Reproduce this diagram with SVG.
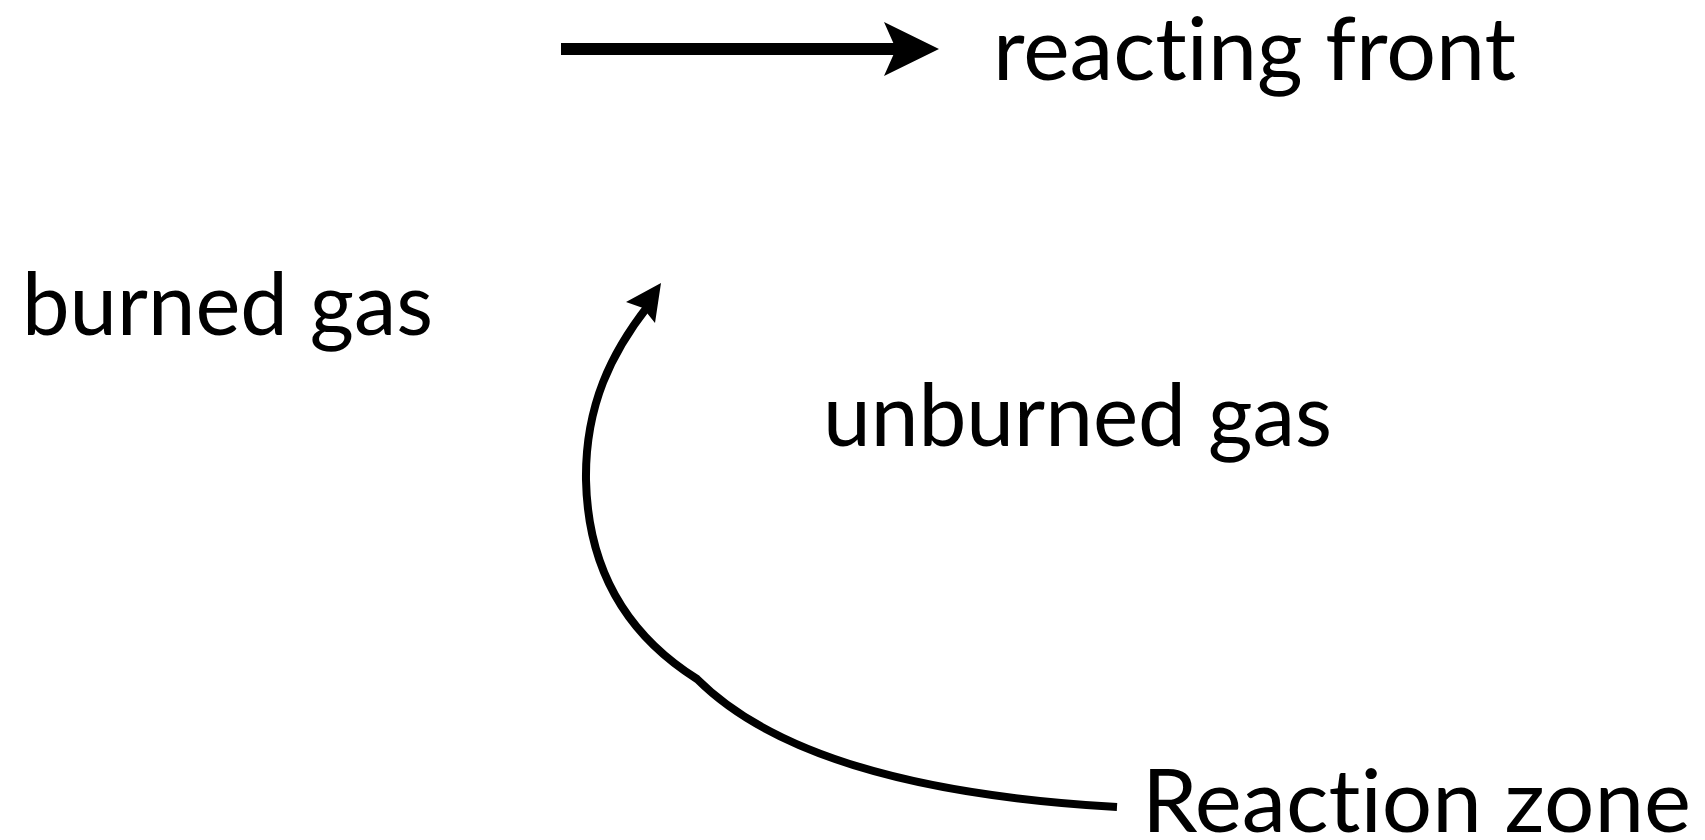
<svg xmlns="http://www.w3.org/2000/svg" width="1705" height="840" viewBox="0 0 1705 840">
  <style>
    .lbl { font-family: Lato, "Open Sans", "Liberation Sans", sans-serif; font-size: 88px; fill: #000; font-variant-ligatures: none; font-feature-settings: "liga" 0, "clig" 0; }
    .wire { fill: none; stroke: #000; stroke-linecap: butt; stroke-linejoin: round; }
    .head { fill: #000; stroke: none; }
  </style>
  <rect width="1705" height="840" fill="#fff"/>

  <g id="connectors">
    <!-- direction of propagation -->
    <g id="front-arrow">
      <line class="wire" x1="561" y1="49" x2="897" y2="49" stroke-width="12"/>
      <polygon class="head" points="939,49 884,22 896,49 884,76"/>
    </g>
    <!-- pointer from the reaction zone label -->
    <g id="zone-arrow">
      <path class="wire" stroke-width="8" d="M1117,807 C940,797 780,762 697,679 C635,640 588,578 586,480 C585,405 612,352 648,306"/>
      <polygon class="head" points="661,283 626,302 643,308 655,323"/>
    </g>
  </g>

  <g id="reacting-front">
    <text class="lbl" x="993" y="80" textLength="523" lengthAdjust="spacingAndGlyphs">reacting front</text>
  </g>
  <g id="burned-gas">
    <text class="lbl" x="22" y="335" textLength="411" lengthAdjust="spacingAndGlyphs">burned gas</text>
  </g>
  <g id="unburned-gas">
    <text class="lbl" x="823" y="446" textLength="509" lengthAdjust="spacingAndGlyphs">unburned gas</text>
  </g>
  <g id="reaction-zone">
    <text class="lbl" x="1142" y="832" textLength="549" lengthAdjust="spacingAndGlyphs">Reaction zone</text>
  </g>
</svg>
